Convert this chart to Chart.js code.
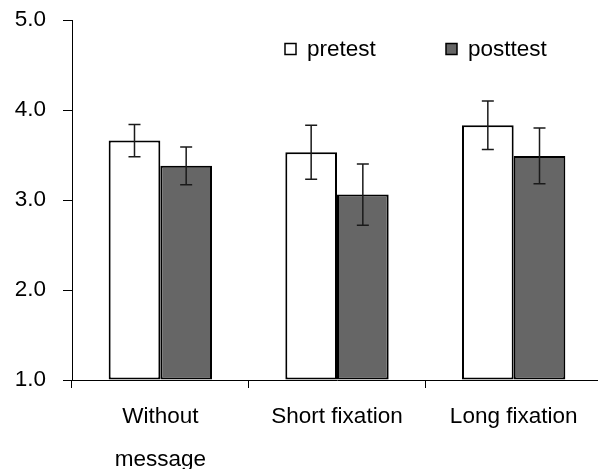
<!DOCTYPE html>
<html>
<head>
<meta charset="utf-8">
<script src="https://cdn.jsdelivr.net/npm/chart.js@4.4.1/dist/chart.umd.min.js"></script>
<style>
    html, body { margin: 0; padding: 0; background: #fff; overflow: hidden; }
    #wrap { position: relative; width: 602px; height: 469px; }
</style>
</head>
<body>
<div id="wrap"><canvas id="chart"></canvas></div>
<script>
const categories = [['Without', 'message'], 'Short fixation', 'Long fixation'];
const pretest = [3.66, 3.53, 3.83];
const pretestErr = [0.18, 0.30, 0.27];
const posttest = [3.38, 3.06, 3.49];
const posttestErr = [0.21, 0.34, 0.31];
const yTicks = [1, 2, 3, 4, 5];

const FONT = '"Liberation Sans", Arial, sans-serif';

const errorBars = {
    id: 'errorBars',
    afterDatasetsDraw(chart) {
        const ctx = chart.ctx;
        const y = chart.scales.y;
        ctx.save();
        ctx.strokeStyle = '#1a1a1a';
        ctx.lineWidth = 1.5;
        chart.data.datasets.forEach((ds, i) => {
            const meta = chart.getDatasetMeta(i);
            meta.data.forEach((bar, j) => {
                const v = ds.data[j];
                const e = ds.errors[j];
                const top = y.getPixelForValue(v + e);
                const bot = y.getPixelForValue(v - e);
                ctx.beginPath();
                ctx.moveTo(bar.x, top);
                ctx.lineTo(bar.x, bot);
                ctx.moveTo(bar.x - 6, top);
                ctx.lineTo(bar.x + 6, top);
                ctx.moveTo(bar.x - 6, bot);
                ctx.lineTo(bar.x + 6, bot);
                ctx.stroke();
            });
        });
        ctx.restore();
    }
};

// legend drawn inside the plot area, top right
const innerLegend = {
    id: 'innerLegend',
    afterDraw(chart) {
        const ctx = chart.ctx;
        const spots = [285, 446];
        ctx.save();
        ctx.font = '22.5px ' + FONT;
        ctx.textBaseline = 'middle';
        chart.data.datasets.forEach((ds, i) => {
            const x = spots[i];
            ctx.fillStyle = ds.backgroundColor;
            ctx.fillRect(x, 43.5, 11, 11);
            ctx.strokeStyle = '#000';
            ctx.lineWidth = 1.5;
            ctx.strokeRect(x, 43.5, 11, 11);
            ctx.fillStyle = '#000';
            ctx.fillText(ds.label, x + 22, 49.5);
        });
        ctx.restore();
    }
};

new Chart(document.getElementById('chart'), {
    type: 'bar',
    data: {
        labels: categories,
        datasets: [{
            label: 'pretest',
            data: pretest,
            errors: pretestErr,
            backgroundColor: '#ffffff',
            borderColor: '#000000',
            borderWidth: 2,
            borderSkipped: false,
            base: 1
        }, {
            label: 'posttest',
            data: posttest,
            errors: posttestErr,
            backgroundColor: '#666666',
            borderColor: '#000000',
            borderWidth: 2,
            borderSkipped: false,
            base: 1
        }]
    },
    options: {
        responsive: true,
        maintainAspectRatio: false,
        animation: false,
        layout: { padding: { top: 20, left: 0, right: 0, bottom: 0 } },
        datasets: {
            bar: { categoryPercentage: 0.585, barPercentage: 1.0 }
        },
        plugins: {
            legend: { display: false },
            tooltip: { enabled: false }
        },
        scales: {
            x: {
                grid: { offset: true, drawOnChartArea: false, tickLength: 8, color: '#000' },
                border: { color: '#000', width: 1 },
                ticks: {
                    color: '#000',
                    padding: 7,
                    maxRotation: 0,
                    font: { family: FONT, size: 22.5, lineHeight: 1.91 }
                },
                afterFit(scale) { scale.height = 89; }
            },
            y: {
                min: 1,
                max: 5,
                grid: { drawOnChartArea: false, tickLength: 9, color: '#000' },
                border: { color: '#000', width: 1 },
                afterBuildTicks(scale) {
                    scale.ticks = yTicks.map(v => ({ value: v }));
                },
                ticks: {
                    color: '#000',
                    padding: 17,
                    font: { family: FONT, size: 22.5 },
                    callback: v => Number(v).toFixed(1)
                },
                afterFit(scale) {
                    scale.width = 72;
                    scale.paddingTop = 0;
                    scale.paddingBottom = 0;
                }
            }
        }
    },
    plugins: [errorBars, innerLegend]
});
</script>
</body>
</html>
